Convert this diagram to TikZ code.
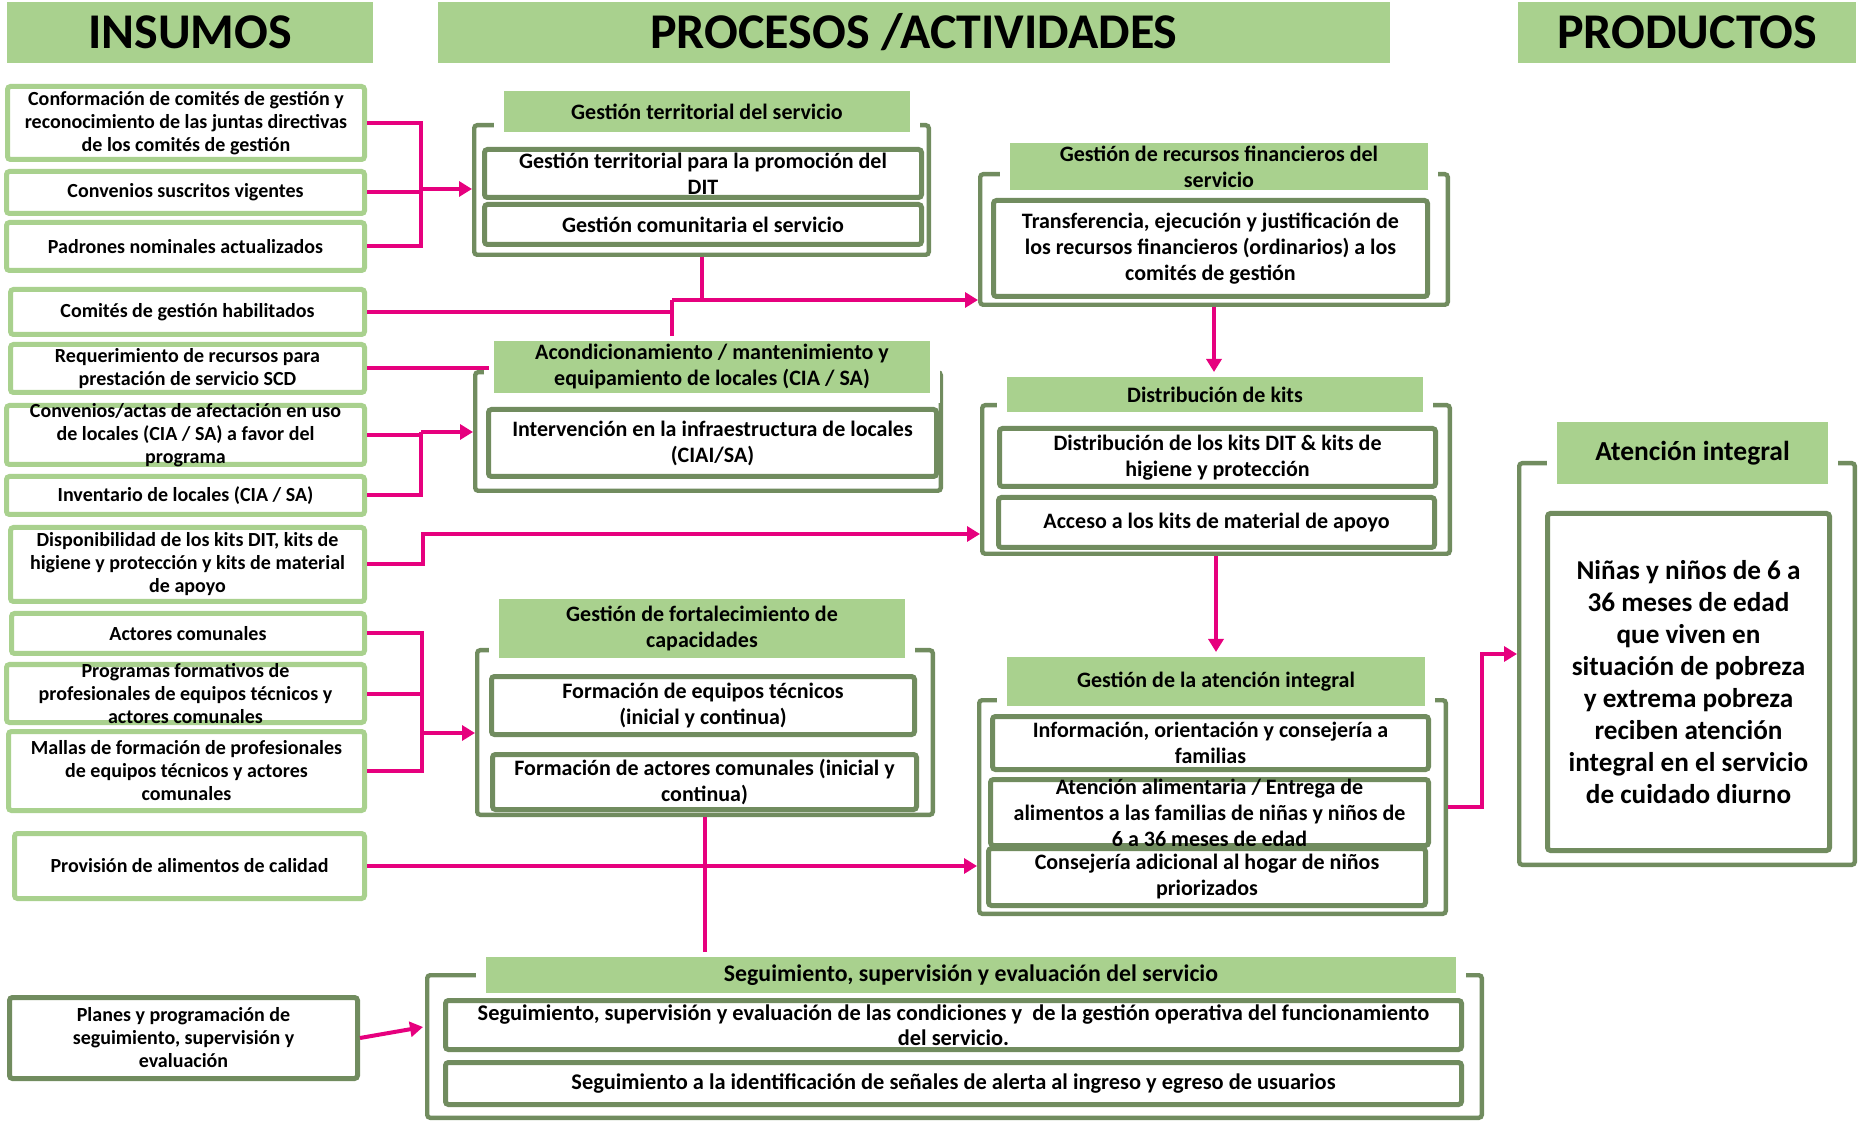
\documentclass[tikz,border=0pt]{standalone}
\usepackage{fontspec}
\setmainfont{Carlito}
\usepackage{tikz}
\usetikzlibrary{arrows.meta}
\definecolor{lgreen}{HTML}{A9D18E}
\definecolor{dgreen}{HTML}{718C5F}
\definecolor{pinkln}{HTML}{E6007E}
\begin{document}
\begin{tikzpicture}[x=0.5pt, y=-0.5pt,
    intext/.style={align=center, inner sep=0pt, font=\bfseries\fontsize{10}{11.5}\selectfont},
    midtext/.style={align=center, inner sep=0pt, font=\bfseries\fontsize{11}{13}\selectfont},
    inbox/.style={intext, draw=lgreen, fill=white, line width=2.5pt, rounded corners=1.5pt},
    dbox/.style={midtext, draw=dgreen, fill=white, line width=2.5pt, rounded corners=1.5pt},
    grp/.style={draw=dgreen, fill=white, line width=2.2pt, rounded corners=1.5pt},
    grptitle/.style={midtext, fill=lgreen, draw=white, line width=5pt, outer sep=0pt},
    header/.style={fill=lgreen, inner sep=0pt, font=\bfseries\fontsize{25}{29}\selectfont},
    pk/.style={draw=pinkln, line width=2pt},
    pkarr/.style={pk, -{Triangle[length=6.5pt, width=7.5pt]}}]
\useasboundingbox (0,0) rectangle (1858,1122);

\node[header, minimum width=183pt, minimum height=30.5pt] (hins) at (190,32.5) {INSUMOS};
\node[header, minimum width=476pt, minimum height=30.5pt] (hpro) at (914,32.5) {PROCESOS /ACTIVIDADES};
\node[header, minimum width=169pt, minimum height=30.5pt] (hprd) at (1687,32.5) {PRODUCTOS};

\node[inbox, minimum width=178.5pt, minimum height=36.5pt] (in1) at (186,123) {Conformación de comités de gestión y\\reconocimiento de las juntas directivas\\de los comités de gestión};
\node[inbox, minimum width=179pt, minimum height=21pt] (in2) at (185.5,192.5) {Convenios suscritos vigentes};
\node[inbox, minimum width=179pt, minimum height=24pt] (in3) at (185.5,246.5) {Padrones nominales actualizados};
\node[inbox, minimum width=177pt, minimum height=22.5pt] (in4) at (187.5,312) {Comités de gestión habilitados};
\node[inbox, minimum width=177pt, minimum height=24pt] (in5) at (187.5,368.5) {Requerimiento de recursos para\\prestación de servicio SCD};
\node[inbox, minimum width=179pt, minimum height=29.5pt] (in6) at (185.5,435) {};
\node[intext] (in6t) at (in6) {Convenios/actas de afectación en uso\\de locales (CIA / SA) a favor del\\programa};
\node[inbox, minimum width=179pt, minimum height=19pt] (in7) at (185.5,495.5) {Inventario de locales (CIA / SA)};
\node[inbox, minimum width=177pt, minimum height=37pt] (in8) at (187.5,564.5) {Disponibilidad de los kits DIT, kits de\\higiene y protección y kits de material\\de apoyo};
\node[inbox, minimum width=176.5pt, minimum height=20pt] (in9) at (188,633.5) {Actores comunales};
\node[inbox, minimum width=179pt, minimum height=29pt] (in10) at (185.5,693.5) {};
\node[intext] (in10t) at (in10) {Programas formativos de\\profesionales de equipos técnicos y\\actores comunales};
\node[inbox, minimum width=178pt, minimum height=39.5pt] (in11) at (186.5,771) {Mallas de formación de profesionales\\de equipos técnicos y actores\\comunales};
\node[inbox, minimum width=175pt, minimum height=32.5pt] (in12) at (189.5,866) {Provisión de alimentos de calidad};
\node[inbox, draw=dgreen, minimum width=174pt, minimum height=40.5pt] (in13) at (183.5,1038) {Planes y programación de\\seguimiento, supervisión y\\evaluación};

\node[grp, minimum width=227.3pt, minimum height=64.8pt] (fA) at (701.5,190) {};
\node[grptitle, minimum width=208pt, minimum height=25.5pt] (tA) at (707,111.5) {Gestión territorial del servicio};
\node[dbox, minimum width=218.5pt, minimum height=24pt] (a1) at (703,173.5) {Gestión territorial para la promoción del\\DIT};
\node[dbox, minimum width=218.5pt, minimum height=20pt] (a2) at (703,224.5) {Gestión comunitaria el servicio};

\node[grp, minimum width=232.8pt, minimum height=59.3pt] (fB) at (708,431.5) {};
\node[grptitle, minimum width=223pt, minimum height=31pt] (tB) at (712,367) {Acondicionamiento / mantenimiento y\\equipamiento de locales (CIA / SA)};
\node[dbox, minimum width=224pt, minimum height=33.5pt] (b1) at (712.5,443) {Intervención en la infraestructura de locales\\(CIAI/SA)};

\node[grp, minimum width=227.8pt, minimum height=82.3pt] (fE) at (705,732.5) {};
\node[grptitle, minimum width=208pt, minimum height=34.5pt] (tE) at (702,628.5) {Gestión de fortalecimiento de\\capacidades};
\node[dbox, minimum width=211.5pt, minimum height=29pt] (e1) at (703,705.5) {Formación de equipos técnicos\\(inicial y continua)};
\node[dbox, minimum width=212pt, minimum height=27.5pt] (e2) at (704.5,782) {Formación de actores comunales (inicial y\\continua)};

\node[grp, minimum width=233.8pt, minimum height=65.3pt] (fC) at (1214,239.5) {};
\node[grptitle, minimum width=214pt, minimum height=28.5pt] (tC) at (1219,166.5) {Gestión de recursos financieros del\\servicio};
\node[dbox, minimum width=217pt, minimum height=48pt] (c1) at (1210.5,248.5) {Transferencia, ejecución y justificación de\\los recursos financieros (ordinarios) a los\\comités de gestión};

\node[grp, minimum width=233.8pt, minimum height=74.3pt] (fD) at (1216,479.5) {};
\node[grptitle, minimum width=213pt, minimum height=22.5pt] (tD) at (1215,394.5) {Distribución de kits};
\node[dbox, minimum width=218pt, minimum height=29pt] (d1) at (1217.5,457.5) {Distribución de los kits DIT \& kits de\\higiene y protección};
\node[dbox, minimum width=218pt, minimum height=25pt] (d2) at (1216.5,522.5) {Acceso a los kits de material de apoyo};

\node[grp, minimum width=233.3pt, minimum height=106.8pt] (fG) at (1212.5,807) {};
\node[grptitle, minimum width=214pt, minimum height=29.5pt] (tG) at (1216,681.5) {Gestión de la atención integral};
\node[dbox, minimum width=218pt, minimum height=26.5pt] (g1) at (1210.5,743) {Información, orientación y consejería a\\familias};
\node[dbox, minimum width=219pt, minimum height=33pt] (g2) at (1209.5,812.5) {};
\node[midtext] (g2t) at (g2) {Atención alimentaria / Entrega de\\alimentos a las familias de niñas y niños de\\6 a 36 meses de edad};
\node[dbox, minimum width=218.5pt, minimum height=28.5pt] (g3) at (1207,877) {Consejería adicional al hogar de niños\\priorizados};

\node[grp, minimum width=167.8pt, minimum height=200.8pt] (fP) at (1687,664) {};
\node[grptitle, font=\bfseries\fontsize{13.75}{16}\selectfont, minimum width=140.5pt, minimum height=36pt] (tP) at (1692.5,453) {Atención integral};
\node[dbox, font=\bfseries\fontsize{13.6}{16}\selectfont, minimum width=141pt, minimum height=168.5pt] (p1) at (1688.5,682) {Niñas y niños de 6 a\\36 meses de edad\\que viven en\\situación de pobreza\\y extrema pobreza\\reciben atención\\integral en el servicio\\de cuidado diurno};

\node[grp, minimum width=527.3pt, minimum height=71.3pt] (fH) at (954.5,1046.5) {};
\node[grptitle, font=\bfseries\fontsize{11.9}{13}\selectfont, minimum width=490pt, minimum height=23pt] (tH) at (971,975) {Seguimiento, supervisión y evaluación del servicio};
\node[dbox, font=\bfseries\fontsize{11.2}{12.5}\selectfont, minimum width=508pt, minimum height=24.5pt] (h1) at (953.5,1025) {Seguimiento, supervisión y evaluación de las condiciones y~ de la gestión operativa del funcionamiento\\del servicio.};
\node[dbox, font=\bfseries\fontsize{11.2}{12.5}\selectfont, minimum width=508pt, minimum height=21pt] (h2) at (953.5,1083.5) {Seguimiento a la identificación de señales de alerta al ingreso y egreso de usuarios};

\coordinate (jA) at (421,189);
\coordinate (jB) at (672,300);
\coordinate (jC) at (421,432);
\coordinate (jD) at (423,534);
\coordinate (jE) at (422,733);
\coordinate (jH) at (423,1027);
\coordinate (jP) at (1482,654);

\draw[pk] (in1.east) -| (jA);
\draw[pk] (in3.east) -| (jA);
\draw[pk] (in2.east) -- (in2.east -| jA);
\draw[pkarr] (jA) -- (jA -| fA.west);
\draw[pk] (in4.east) -| (jB);
\draw[pk] (jB) -- (jB |- tB.north);
\draw[pk] (fA.south) -- (fA.south |- jB);
\draw[pkarr] (jB) -- (jB -| fC.west);
\draw[pk] (in5.east) -- (in5.east -| tB.west);
\draw[pk] (in6.east) -- (in6.east -| jC);
\draw[pk] (in7.east) -| (jC);
\draw[pkarr] (jC) -- (jC -| fB.west);
\draw[pkarr] (in8.east) -| (jD) -- (jD -| fD.west);
\draw[pk] (in9.east) -| (jE);
\draw[pk] (in11.east) -| (jE);
\draw[pk] (in10.east) -- (in10.east -| jE);
\draw[pkarr] (jE) -- (jE -| fE.west);
\draw[pkarr] (in12.east) -- (in12.east -| fG.west);
\draw[pk] (fE.south) -- (fE.south |- tH.north);
\draw[pkarr] (in13.east) -- (jH);
\draw[pkarr] (fC.south) -- (fC.south |- tD.north);
\draw[pkarr] (fD.south) -- (fD.south |- tG.north);
\draw[pkarr] (fG.east) -| (jP) -- (jP -| fP.west);
\end{tikzpicture}
\end{document}
